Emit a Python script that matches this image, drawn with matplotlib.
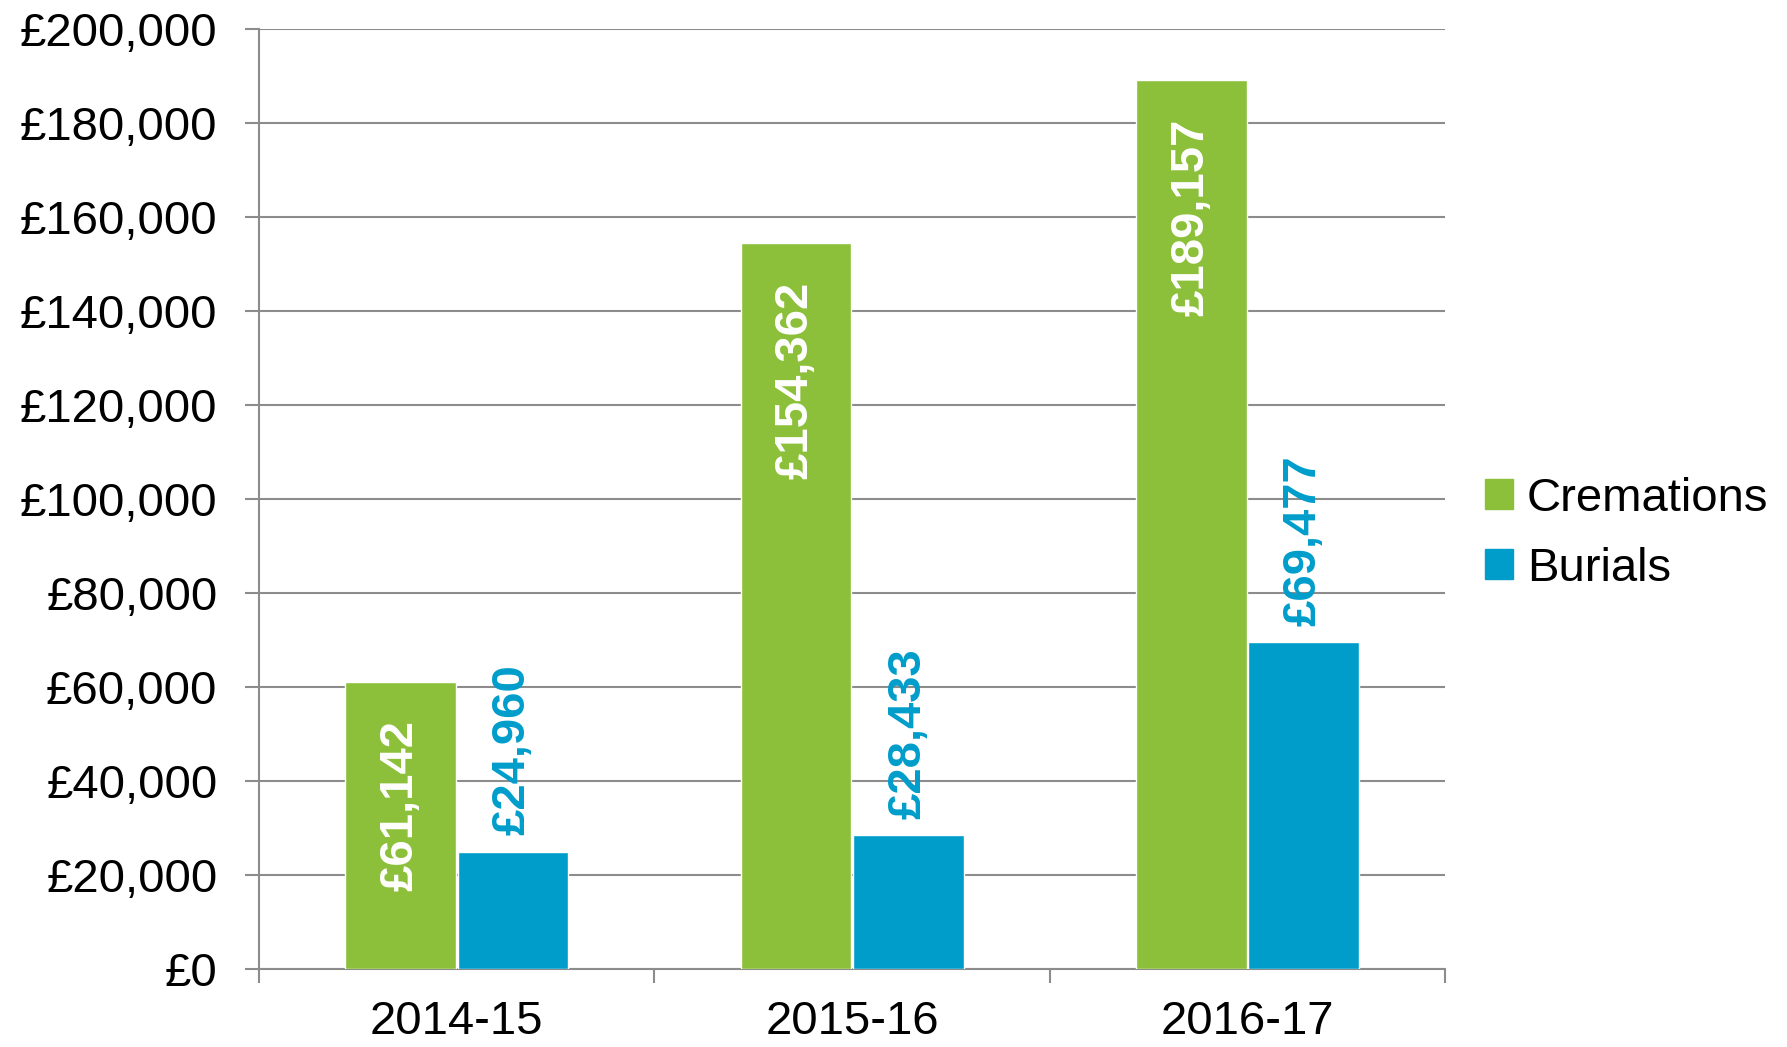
import matplotlib
matplotlib.use("Agg")
import matplotlib.pyplot as plt
import numpy as np
from matplotlib.patches import Patch

years = ["2014-15", "2015-16", "2016-17"]
cremations = [61142, 154362, 189157]
burials = [24960, 28433, 69477]
yticks = [0, 20000, 40000, 60000, 80000, 100000, 120000, 140000, 160000, 180000, 200000]

green = "#8DC03A"
blue = "#009DCB"
grey = "#8C8C8C"

plt.rcParams['font.family'] = ['Liberation Sans', 'DejaVu Sans']

fig = plt.figure(figsize=(17.87, 10.47), dpi=100)
ax = fig.add_axes([0.145, 0.0745, 0.6636, 0.898])

index = np.arange(len(years))
w = 0.28
off = 0.142
ax.bar(index - off, cremations, w, color=green, edgecolor="white", linewidth=1, zorder=3)
ax.bar(index + off, burials, w, color=blue, edgecolor="white", linewidth=1, zorder=3)

for i in index:
    ax.annotate("£{:,}".format(cremations[i]), (i - off, cremations[i]), xytext=(0, -28),
                textcoords="offset points", rotation=90, ha="center", va="top",
                color="white", fontsize=34, fontweight="bold", zorder=4)
    ax.annotate("£{:,}".format(burials[i]), (i + off, burials[i]), xytext=(0, 12),
                textcoords="offset points", rotation=90, ha="center", va="bottom",
                color=blue, fontsize=34, fontweight="bold", zorder=4)

ax.set_xlim(-0.5, 2.5)
ax.set_ylim(0, 200000)
ax.set_yticks(yticks)
ax.set_yticklabels(["£{:,}".format(v) for v in yticks], fontsize=34)
ax.yaxis.grid(True, color=grey, linewidth=1.5, zorder=0)
ax.set_xticks(index)
ax.set_xticklabels(years, fontsize=34)
ax.set_xticks([-0.5, 0.5, 1.5, 2.5], minor=True)
ax.tick_params(axis="x", which="major", length=0, pad=22)
ax.tick_params(axis="x", which="minor", length=10, width=1.5, color=grey)
ax.tick_params(axis="y", length=10, width=1.5, color=grey, pad=20)
for s in ["top", "right"]:
    ax.spines[s].set_visible(False)
for s in ["left", "bottom"]:
    ax.spines[s].set_color(grey)
    ax.spines[s].set_linewidth(1.5)

handles = [Patch(color=green, label="Cremations"), Patch(color=blue, label="Burials")]
fig.legend(handles=handles, loc="center left", bbox_to_anchor=(0.807, 0.49), frameon=False,
           fontsize=34, handlelength=0.6, handleheight=0.6, handletextpad=0.3, labelspacing=0.55)

fig.savefig("out.png", dpi=100)
